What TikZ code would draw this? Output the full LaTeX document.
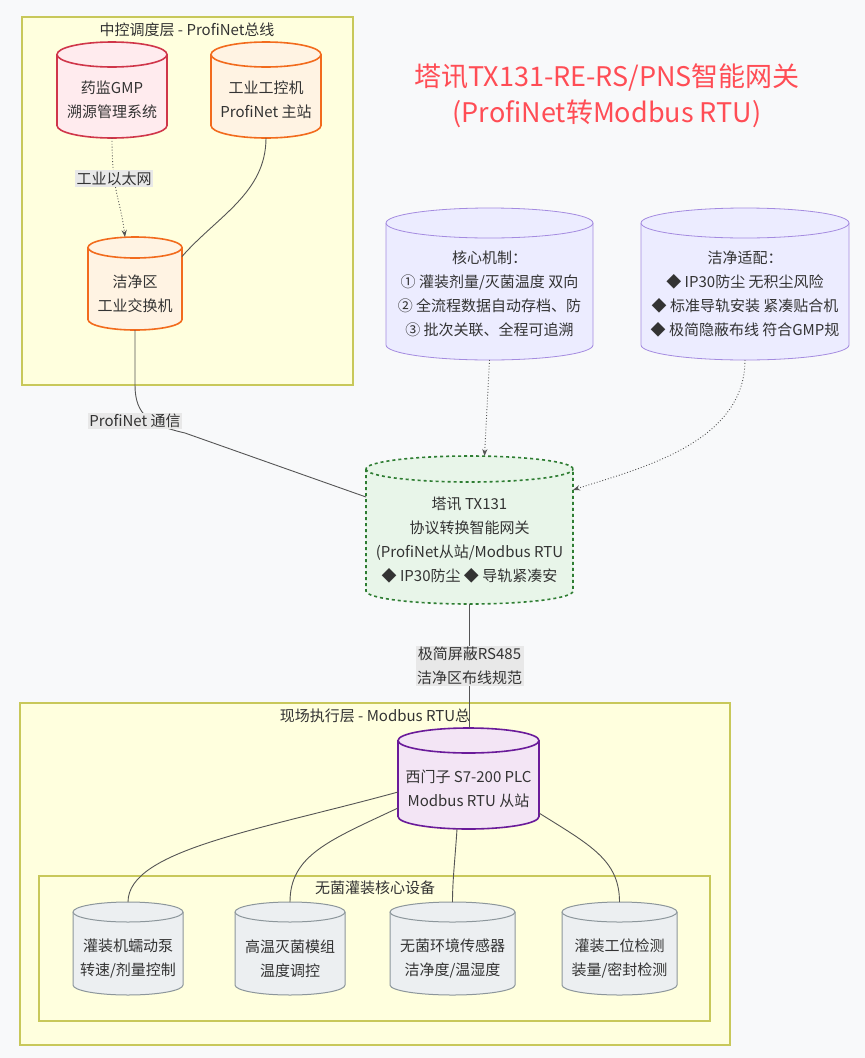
\documentclass[tikz,border=0pt]{standalone}
\usepackage{fontspec}
\setmainfont{Noto Sans CJK SC}
\usetikzlibrary{shapes.geometric, arrows.meta, positioning}

\definecolor{pagebg}{HTML}{F8F9FA}
\definecolor{zonefill}{HTML}{FFFFDE}
\definecolor{zoneline}{HTML}{C8C85A}
\definecolor{gmpfill}{HTML}{FFEBEE}
\definecolor{gmpline}{HTML}{D0364A}
\definecolor{ctrlfill}{HTML}{FFF3E3}
\definecolor{ctrlline}{HTML}{F26B1D}
\definecolor{notefill}{HTML}{ECECFF}
\definecolor{noteline}{HTML}{A48BE0}
\definecolor{gwfill}{HTML}{E8F5E9}
\definecolor{gwline}{HTML}{2E7D32}
\definecolor{plcfill}{HTML}{F3E5F5}
\definecolor{plcline}{HTML}{6A1B9A}
\definecolor{devfill}{HTML}{ECEFF1}
\definecolor{devline}{HTML}{8C969B}
\definecolor{titlered}{HTML}{FF4D55}
\definecolor{wire}{HTML}{555555}
\definecolor{tagbg}{HTML}{E8E8E8}

% cylinder: #1 look, #2 name, #3 centre, #4 width, #5 height, #6 cap radius, #7 text
\newcommand{\cylnode}[7]{%
    \node[tankbox, minimum width=#4, minimum height=#5] (#2) at #3 {};
    \filldraw[#1] ([yshift=-#6]#2.north west) -- ([yshift=#6]#2.south west)
        arc[start angle=180, end angle=360, x radius=#4/2, y radius=#6]
        -- ([yshift=-#6]#2.north east)
        arc[start angle=0, end angle=180, x radius=#4/2, y radius=#6] -- cycle;
    \draw[#1] ([yshift=-#6]#2.north west)
        arc[start angle=180, end angle=360, x radius=#4/2, y radius=#6];
    \node[tanktext] (#2-text) at (#2.center) {#7};
}

\begin{document}
\begin{tikzpicture}[x=1pt, y=-1pt, font=\fontsize{15}{24}\selectfont, text=black!80,
    tankbox/.style={rectangle, inner sep=0pt, outer sep=0pt},
    tanktext/.style={yshift=-10pt, align=center},
    gmplook/.style={fill=gmpfill, draw=gmpline, line width=1.6pt},
    ctrllook/.style={fill=ctrlfill, draw=ctrlline, line width=1.6pt},
    notelook/.style={fill=notefill, draw=noteline, line width=0.8pt},
    gwlook/.style={fill=gwfill, draw=gwline, line width=1.6pt, dashed},
    plclook/.style={fill=plcfill, draw=plcline, line width=1.6pt},
    devlook/.style={fill=devfill, draw=devline, line width=1pt},
    zone/.style={draw=zoneline, fill=zonefill, line width=1.2pt},
    wirestyle/.style={draw=wire, line width=0.9pt},
    dotwire/.style={wirestyle, dotted, -{Stealth[length=7pt]}},
    tag/.style={fill=tagbg, inner sep=1.5pt, align=center, font=\fontsize{15}{24}\selectfont},
    zonetitle/.style={font=\fontsize{15}{16}\selectfont}
  ]

    % Page
    \fill[pagebg] (0,0) rectangle (865,1058);
    \useasboundingbox (0,0) rectangle (865,1058);

    % Zones
    \draw[zone] (22,17) rectangle (353,385);
    \node[zonetitle] (toptitle) at (187,30) {中控调度层 - ProfiNet总线};
    \draw[zone] (20,703) rectangle (730,1045);
    \node[zonetitle] (fieldtitle) at (375,716) {现场执行层 - Modbus RTU总};
    \draw[zone] (39,876) rectangle (710,1021);
    \node[zonetitle] (devtitle) at (375,888) {无菌灌装核心设备};

    % Title
    \node[text=titlered, font=\fontsize{27}{36}\selectfont, align=center] (title) at (607,96)
        {塔讯TX131-RE-RS/PNS智能网关\\(ProfiNet转Modbus RTU)};

    % Control layer
    \cylnode{gmplook}{gmp}{(112,90)}{110pt}{96pt}{12.5pt}{药监GMP\\溯源管理系统}
    \cylnode{ctrllook}{ipc}{(266,90)}{110pt}{96pt}{12.5pt}{工业工控机\\ProfiNet 主站}
    \cylnode{ctrllook}{switch}{(135,283.5)}{94pt}{93pt}{10.5pt}{洁净区\\工业交换机}

    % Notes
    \cylnode{notelook}{core}{(489.5,284)}{207pt}{152pt}{15pt}
        {核心机制：\\① 灌装剂量/灭菌温度 双向\\② 全流程数据自动存档、防\\③ 批次关联、全程可追溯}
    \cylnode{notelook}{clean}{(745,284)}{208pt}{152pt}{15pt}
        {洁净适配：\\◆ IP30防尘 无积尘风险\\◆ 标准导轨安装 紧凑贴合机\\◆ 极简隐蔽布线 符合GMP规}

    % Gateway
    \cylnode{gwlook}{gw}{(469.5,530)}{207pt}{148pt}{13pt}
        {塔讯 TX131\\协议转换智能网关\\(ProfiNet从站/Modbus RTU\\◆ IP30防尘 ◆ 导轨紧凑安}

    % Field layer
    \cylnode{plclook}{plc}{(468.5,778.5)}{141pt}{101pt}{12.5pt}{西门子 S7-200 PLC\\Modbus RTU 从站}

    \cylnode{devlook}{pump}{(128,948.5)}{110pt}{93pt}{10pt}{灌装机蠕动泵\\转速/剂量控制}
    \cylnode{devlook}{steril}{(290,948.5)}{110pt}{93pt}{10pt}{高温灭菌模组\\温度调控}
    \cylnode{devlook}{sensor}{(452.5,948.5)}{125pt}{93pt}{10pt}{无菌环境传感器\\洁净度/温湿度}
    \cylnode{devlook}{station}{(619.5,948.5)}{115pt}{93pt}{10pt}{灌装工位检测\\装量/密封检测}

    % Links
    \draw[dotwire] (gmp.south) .. controls +(0,55) and +(-5,-40) .. ([xshift=-10pt]switch.north)
        node[tag, pos=0.33] (ethtag) {工业以太网};
    \draw[wirestyle] (ipc.south) .. controls +(0,55) and +(35,-40) .. ([yshift=27pt]switch.east);
    \draw[wirestyle] (switch.south) -- (135,385) .. controls (135,415) and (150,425) .. (185,433)
        -- ([yshift=33pt]gw.west);
    \node[tag] (pntag) at (135,421) {ProfiNet 通信};
    \draw[dotwire] (core.south) -- ([xshift=15pt]gw.north);
    \draw[dotwire] (clean.south) .. controls +(0,85) and +(60,-20) .. ([yshift=40pt]gw.east);
    \draw[wirestyle] (gw.south) -- (gw.south |- plc.north)
        node[tag, midway] (rstag) {极简屏蔽RS485\\洁净区布线规范};

    \draw[wirestyle] ([yshift=-13.5pt]plc.west) .. controls (260,830) and (128,850) .. (pump.north);
    \draw[wirestyle] ([yshift=-29.5pt]plc.west) .. controls (330,840) and (290,855) .. (steril.north);
    \draw[wirestyle] ([xshift=-11.5pt]plc.south) .. controls (455,860) and (452.5,880) .. (sensor.north);
    \draw[wirestyle] ([yshift=-34.5pt]plc.east) .. controls (590,845) and (619.5,860) .. (station.north);

\end{tikzpicture}
\end{document}
